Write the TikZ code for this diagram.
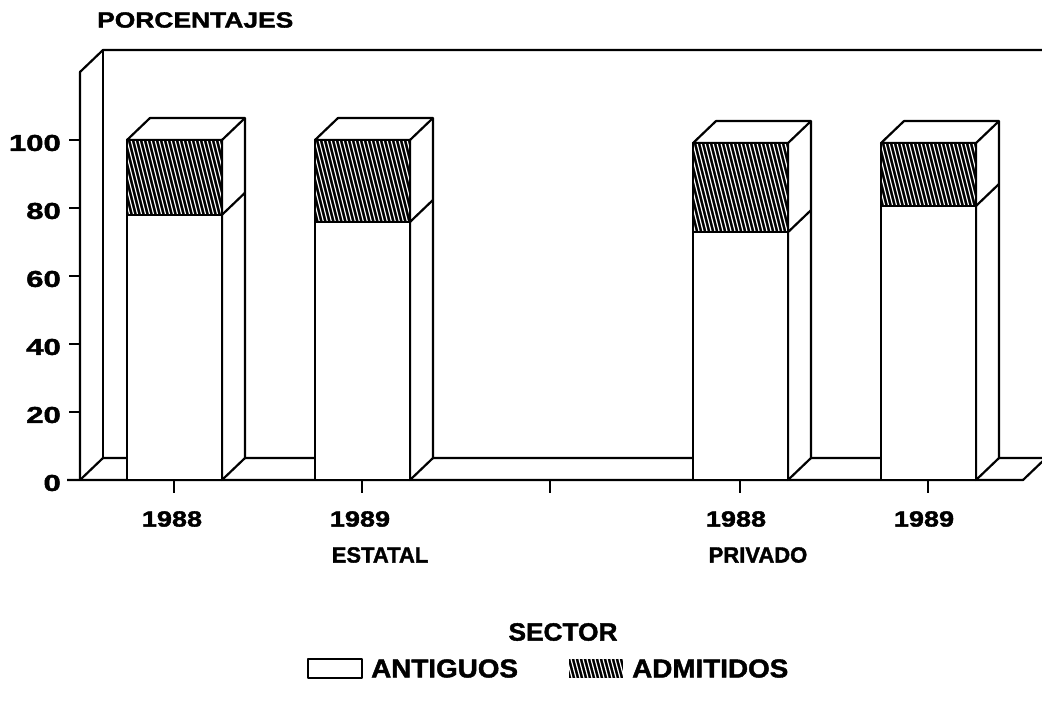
\documentclass[tikz,border=0pt]{standalone}
\usepackage{fontspec}
\setmainfont{Liberation Sans}[BoldFeatures={FakeBold=1.6}]
\usepackage{graphicx}
\newcommand\drawbar[3]{%
  \pgfmathsetmacro\xl{#1}%
  \pgfmathsetmacro\xr{#1+95}%
  \pgfmathsetmacro\yb{480-3.4*#2}%
  \pgfmathsetmacro\yt{480-3.4*#3}%
  \filldraw[edge,fill=white] (\xr,480) -- (\xr+23,458) -- (\xr+23,\yt-22) -- (\xl+23,\yt-22) -- (\xl,\yt) -- (\xr,\yt) -- cycle;
  \draw[edge] (\xr,\yt) -- (\xr+23,\yt-22);
  \draw[edge] (\xr,\yb) -- (\xr+23,\yb-22);
  \fill[white] (\xl,480) rectangle (\xr,\yb);
  \fill[black] (\xl,\yb) rectangle (\xr,\yt);
  \begin{scope}
    \clip (\xl,\yb) rectangle (\xr,\yt);
    \foreach \i in {-40,-36,...,100} \draw[hatchline] (\xl+\i,\yt) -- ++({0.25*(\yb-\yt)},{\yb-\yt});
  \end{scope}
  \draw[edge] (\xl,480) rectangle (\xr,\yt);
  \draw[edge] (\xl,\yb) -- (\xr,\yb);
}
\begin{document}
\begin{tikzpicture}[x=1pt,y=-1pt,line join=round,
  edge/.style={line width=2.2pt,black},
  hatchline/.style={white,line width=1.2pt},
  txt/.style={font=\bfseries, inner sep=0pt}]
\useasboundingbox (0,0) rectangle (1042,706);
\fill[white] (0,0) rectangle (1042,706);
% back wall and floor
\draw[edge] (80,480) -- (80,72) -- (103,50) -- (1046,50);
\draw[edge] (103,50) -- (103,458);
\draw[edge] (80,480) -- (103,458) -- (1046,458);
\draw[edge] (67,480) -- (1023,480) -- (1046,458);
% y ticks and labels
\foreach \v/\n in {0/y0,20/y20,40/y40,60/y60,80/y80,100/y100}{
  \draw[edge] (69,480-3.4*\v) -- (80,480-3.4*\v);
  \node[txt,anchor=east] (\n) at (61,483-3.4*\v) {\fontsize{23}{25}\selectfont\scalebox{1.35}[1]{\v}};
}
% x ticks
\foreach \x in {174,362,550,740,928} \draw[edge] (\x,480) -- (\x,493);
% bars
\drawbar{127}{78}{100}
\drawbar{315}{75.9}{100}
\drawbar{693}{72.9}{99.1}
\drawbar{881}{80.6}{99.1}
% texts
\node[txt,anchor=west] (title) at (97,20) {\fontsize{22}{24}\selectfont\scalebox{1.2}[1]{PORCENTAJES}};
\node[txt] (a1) at (172,519) {\fontsize{22}{24}\selectfont\scalebox{1.23}[1]{1988}};
\node[txt] (a2) at (360,519) {\fontsize{22}{24}\selectfont\scalebox{1.23}[1]{1989}};
\node[txt] (b1) at (736,519) {\fontsize{22}{24}\selectfont\scalebox{1.23}[1]{1988}};
\node[txt] (b2) at (924,519) {\fontsize{22}{24}\selectfont\scalebox{1.23}[1]{1989}};
\node[txt] (est) at (380,555) {\fontsize{22}{24}\selectfont ESTATAL};
\node[txt] (priv) at (758,555) {\fontsize{22}{24}\selectfont PRIVADO};
\node[txt] (sector) at (563,632) {\fontsize{25}{27}\selectfont\scalebox{1.05}[1]{SECTOR}};
% legend
\draw[line width=1.8pt] (308,659) rectangle (362,678);
\node[txt,anchor=west] (ant) at (371,668.5) {\fontsize{26}{28}\selectfont\scalebox{1.07}[1]{ANTIGUOS}};
\fill[black] (569,659) rectangle (623,678);
\begin{scope}
  \clip (569,659) rectangle (623,678);
  \foreach \i in {-10,-6,...,60} \draw[hatchline] (569+\i,659) -- ++(5,19);
\end{scope}
\node[txt,anchor=west] (adm) at (632,668.5) {\fontsize{26}{28}\selectfont\scalebox{1.07}[1]{ADMITIDOS}};
\end{tikzpicture}
\end{document}
